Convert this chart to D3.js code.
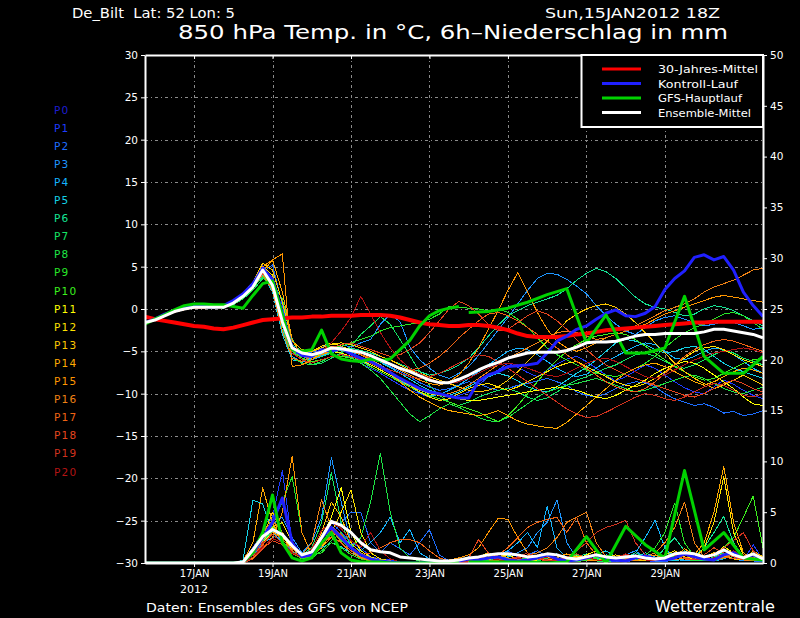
<!DOCTYPE html>
<html>
<head>
<meta charset="utf-8">
<script src="https://cdn.jsdelivr.net/npm/d3@7"></script>
<style>
  body { margin: 0; background: #000; }
  svg { display: block; }
  text { font-family: "DejaVu Sans", sans-serif; fill: #fff; }
</style>
</head>
<body>
<div id="graph"></div>
<script>
// ------DATA------
const station = "De_Bilt  Lat: 52 Lon: 5"
const runLabel = "Sun,15JAN2012 18Z"
const title = "850 hPa Temp. in °C, 6h–Niederschlag in mm"
const runStart = "2012-01-15T18:00:00Z"
const stepHours = 6
const dateTicks = ["2012-01-17", "2012-01-19", "2012-01-21", "2012-01-23", "2012-01-25", "2012-01-27", "2012-01-29"]
const tempTicks = [-30, -25, -20, -15, -10, -5, 0, 5, 10, 15, 20, 25, 30]
const precipTicks = [0, 5, 10, 15, 20, 25, 30, 35, 40, 45, 50]

const memberNames = ["P0","P1","P2","P3","P4","P5","P6","P7","P8","P9","P10",
                     "P11","P12","P13","P14","P15","P16","P17","P18","P19","P20"]
const memberColors = ["#1e1ed2","#1e3cff","#1e6eff","#1e96ff","#14b4ff","#14d2e6","#14e696",
                      "#14e664","#1ee646","#28e628","#3cf01e","#ffff00","#ffe100","#ffc800",
                      "#ffaa00","#ff9600","#f08214","#f06414","#e6461e","#d2321e","#b41414"]

const legendNames = ["30-Jahres-Mittel", "Kontroll-Lauf", "GFS-Hauptlauf", "Ensemble-Mittel"]
const legendColors = ["#ff0000", "#2020ff", "#00d200", "#ffffff"]

// 30-year climatology, 6-hourly
const climTemp = [-0.9,-1.2,-1.4,-1.6,-1.8,-2.0,-2.1,-2.3, -2.4,-2.2,-1.9,-1.6,-1.3,-1.2,-1.1,-1.0,
  -1.0,-0.9,-0.9,-0.8,-0.8,-0.8,-0.7,-0.7, -0.7,-0.8,-1.0,-1.3,-1.6,-1.8,-1.9,-2.0,
  -2.0,-1.9,-1.9,-2.0,-2.2,-2.5,-2.9,-3.2, -3.3,-3.3,-3.3,-3.2,-3.0,-2.9,-2.7,-2.5,
  -2.4,-2.3,-2.2,-2.1,-2.0,-1.9,-1.8,-1.7, -1.6,-1.6,-1.5,-1.5,-1.5,-1.5,-1.5,-1.5]

// ensemble mean
const meanTemp = [-1.6,-1.3,-0.8,-0.3,0.0,0.2,0.2,0.2, 0.2,0.7,1.5,2.6,4.6,2.8,-1.5,-4.6,
  -5.2,-5.4,-5.1,-4.6,-4.7,-4.9,-5.1,-5.5, -6.0,-6.5,-7.0,-7.4,-7.9,-8.4,-8.7,-8.7,
  -8.3,-7.8,-7.2,-6.7,-6.3,-5.8,-5.5,-5.2, -5.1,-5.1,-5.1,-4.9,-4.5,-4.0,-3.9,-3.9,
  -3.8,-3.5,-3.2,-3.0,-3.0,-2.9,-2.9,-2.9, -2.9,-2.7,-2.4,-2.4,-2.6,-2.8,-3.0,-3.4]
const meanPrecip = [0,0,0,0,0,0,0,0, 0,0,0.1,1.3,2.6,3.3,2.8,1.7,
  0.8,1.1,2.5,4.1,3.7,3.0,2.0,1.3, 1.1,1.0,0.6,0.5,0.4,0.3,0.2,0.2,
  0.3,0.5,0.6,0.8,0.9,0.9,0.8,0.6, 0.7,0.9,0.8,0.5,0.4,0.6,0.8,0.6,
  0.5,0.6,0.7,0.5,0.4,0.5,0.9,1.0, 0.9,0.6,0.8,1.3,0.8,0.5,0.9,0.4]

// control run (P0)
const ctrlTemp = [-1.6,-1.2,-0.6,-0.2,0.2,0.3,0.3,0.2, 0.4,1.0,1.8,3.0,4.8,3.5,-0.5,-4.5,
  -5.5,-5.6,-4.8,-5.0,-4.6,-5.3,-5.8,-6.2, -6.8,-7.5,-8.2,-8.8,-9.4,-9.8,-10.0,-10.3,
  -10.5,-10.5,-8.5,-7.8,-7.4,-6.8,-6.7,-6.6, -6.4,-5.2,-3.8,-3.2,-2.4,-2.0,-1.2,-0.5,
  -0.1,-0.8,-0.9,-0.5,0.3,2.3,3.6,4.5, 6.1,6.4,5.8,6.2,4.6,2.0,0.4,-0.9]
const ctrlPrecip = [0,0,0,0,0,0,0,0, 0,0,0.1,1.0,2.5,4.0,6.4,2.0,
  0.6,0.8,2.5,3.5,2.5,1.5,0.8,0.4, 0.2,0.1,0,0,0,0,0,0.1,
  0.2,0.4,0.3,0.5,0.6,0.3,0.2,0.3, 0.5,0.8,0.4,0.2,0.3,0.5,0.8,0.4,
  0.3,0.2,0.5,0.7,0.4,0.3,0.5,0.9, 0.6,0.4,0.3,0.8,1.0,0.5,0.8,0.3]

// GFS main run: 6-hourly to +192h, then 12-hourly from +198h
const gfsTempA = [-1.8,-1.2,-0.7,-0.1,0.4,0.6,0.6,0.5, 0.5,0.3,0.1,1.6,3.0,3.3,-0.6,-4.8,
  -5.0,-4.8,-2.5,-5.3,-5.9,-6.1,-6.2,-5.9, -6.1,-5.9,-4.8,-3.7,-2.0,-0.8,-0.2,0.1, 0.3]
const gfsTempB = [-0.4,-0.3,0.1,0.8,1.7,2.4,-4.0,-0.7,-5.2,-5.2,-4.6,1.5,-5.6,-7.6,-7.6,-5.6]
const gfsPrecipA = [0,0,0,0,0,0,0,0, 0,0,0.1,1.0,3.0,6.7,2.0,0.5,
  0.2,0.5,2.0,3.0,1.0,0.3,0.1,0.1, 0.1,0,0,0,0,0,0,0.1, 0.1]
const gfsPrecipB = [0.1,0.1,0.1,0.1,0,0.1,2.6,0,3.6,1.8,0.5,9.1,1.3,3.0,0.5,0.3]

// perturbed members P1..P20, 6-hourly
const membersTemp = [
  [-1.5,-1.2,-0.6,-0.2,0.1,0.3,0.2,0.1, 0.4,0.9,1.8,3.0,5.1,3.5,-1.0,-5.0, -5.6,-5.8,-5.2,-4.9,-5.3,-5.8,-6.4,-7.0,
   -7.6,-8.3,-9.0,-9.6,-10.0,-10.4,-10.8,-10.6, -10.2,-9.8,-9.0,-8.0,-7.2,-6.4,-6.9,-7.5, -8.0,-7.2,-6.5,-5.9,-5.6,-6.2,-7.0,-7.8,
   -8.5,-8.0,-7.3,-6.6,-7.0,-7.8,-8.6,-9.3, -9.8,-10.0,-9.2,-8.4,-8.9,-9.6,-10.2,-10.6],
  [-1.7,-1.4,-0.9,-0.4,-0.1,0.1,0.2,0.3, 0.1,0.6,1.3,2.4,4.4,5.2,0.5,-4.8, -5.4,-5.1,-4.6,-4.0,-4.4,-5.0,-5.2,-5.6,
   -6.2,-6.8,-7.4,-8.0,-8.7,-9.2,-9.6,-9.4, -9.0,-8.6,-8.8,-9.3,-9.6,-9.4,-9.0,-8.8, -8.5,-8.2,-8.6,-9.0,-9.8,-10.2,-10.4,-10.0,
   -9.4,-8.9,-8.6,-8.7,-9.2,-10.0,-10.6,-11.0, -11.4,-11.2,-11.6,-12.3,-12.1,-12.6,-12.4,-12.0],
  [-1.6,-1.2,-0.7,-0.3,0.0,0.3,0.4,0.3, 0.3,0.8,1.6,2.9,4.9,3.0,-1.6,-5.2, -5.6,-6.0,-5.5,-4.8,-4.2,-4.5,-4.0,-3.6,
   -1.8,-0.6,-1.5,-4.5,-6.0,-7.0,-7.8,-8.2, -7.6,-6.8,-5.5,-4.0,-2.5,-1.0,0.6,2.2, 3.6,4.2,4.1,3.5,2.7,1.8,0.4,-0.8,
   -1.8,-2.6,-3.0,-2.2,-1.4,-1.0,-0.8,-1.2, -1.6,-2.0,-1.8,-1.4,-1.6,-2.0,-2.4,-2.2],
  [-1.5,-1.3,-0.8,-0.2,0.1,0.2,0.1,0.2, 0.2,0.6,1.4,2.7,4.3,2.5,-2.5,-5.6, -6.3,-6.0,-5.6,-5.0,-5.2,-5.6,-6.1,-6.6,
   -7.2,-7.8,-8.5,-9.2,-9.9,-10.3,-10.1,-9.6, -9.0,-8.2,-7.4,-6.6,-5.8,-5.0,-4.6,-4.8, -5.4,-6.2,-7.0,-7.6,-8.0,-7.7,-7.0,-6.2,
   -5.6,-5.0,-4.4,-4.0,-4.2,-5.0,-5.8,-6.0, -5.6,-5.0,-4.6,-4.8,-5.4,-6.2,-7.0,-7.6],
  [-1.6,-1.3,-0.9,-0.4,-0.1,0.1,0.2,0.2, 0.3,0.8,1.5,2.6,4.0,2.0,-3.0,-6.0, -6.2,-5.8,-5.3,-5.0,-4.9,-5.1,-5.4,-5.8,
   -6.3,-6.9,-7.6,-8.3,-9.0,-9.6,-10.0,-10.2, -9.8,-9.2,-8.6,-8.0,-7.6,-7.9,-8.5,-9.2, -9.6,-9.8,-9.2,-8.4,-7.6,-6.9,-6.0,-5.0,
   -4.0,-3.6,-3.8,-4.2,-4.8,-5.2,-5.0,-4.6, -4.4,-4.8,-5.6,-6.4,-7.0,-7.4,-7.8,-8.2],
  [-1.7,-1.4,-0.8,-0.3,0.0,0.2,0.3,0.2, 0.1,0.6,1.4,2.8,4.8,3.2,-0.8,-4.2, -5.0,-5.4,-5.6,-5.2,-4.8,-4.6,-4.9,-5.2,
   -5.6,-6.0,-6.5,-7.0,-7.4,-7.8,-7.6,-7.2, -6.6,-5.8,-4.6,-3.2,-1.9,-0.8,-0.2,0.4, 0.8,1.2,1.6,2.4,3.4,4.2,4.8,4.4,
   3.6,2.5,1.4,0.6,0.2,0.0,-0.4,-0.8, -0.6,0.0,0.4,0.2,-0.2,-0.8,-1.4,-2.0],
  [-1.6,-1.2,-0.7,-0.2,0.1,0.3,0.2,0.1, 0.2,0.5,1.2,2.2,3.6,3.0,1.2,-3.5, -5.8,-6.6,-6.4,-5.8,-5.2,-4.4,-3.0,-2.0,
   -0.9,-1.8,-3.6,-5.5,-7.4,-9.0,-10.2,-11.0, -11.4,-11.0,-10.4,-10.0,-9.6,-9.4,-9.8,-10.4, -10.8,-10.5,-9.8,-9.0,-8.4,-8.0,-7.5,-7.0,
   -6.6,-6.0,-5.4,-5.2,-5.6,-6.2,-6.8,-7.0, -6.6,-6.0,-5.4,-4.9,-5.2,-5.8,-6.2,-6.6],
  [-1.5,-1.2,-0.8,-0.3,0.0,0.2,0.2,0.3, 0.3,0.7,1.5,2.5,3.8,2.4,-2.0,-5.8, -6.4,-6.6,-6.2,-5.6,-5.4,-5.8,-6.4,-7.2,
   -8.2,-9.6,-11.0,-12.4,-13.3,-12.6,-11.8,-11.2, -11.6,-12.2,-12.8,-13.2,-13.3,-12.8,-12.0,-11.2, -10.4,-9.8,-9.4,-9.0,-8.8,-8.5,-8.2,-8.6,
   -9.0,-9.4,-9.8,-9.6,-9.2,-8.8,-8.4,-8.0, -7.8,-8.2,-8.8,-9.4,-9.8,-10.0,-9.6,-9.2],
  [-1.6,-1.3,-0.8,-0.4,0.0,0.1,0.1,0.2, 0.2,0.7,1.5,2.7,4.4,3.6,-0.6,-4.8, -5.6,-5.8,-5.2,-4.6,-4.4,-4.0,-3.6,-3.2,
   -2.6,-2.2,-2.0,-1.8,-1.6,-1.2,-0.6,0.3, 0.2,0.1,0.0,-0.2,0.0,-0.4,-1.2,-2.2, -3.4,-4.6,-5.4,-6.0,-6.6,-7.2,-7.6,-7.8,
   -8.0,-7.6,-7.0,-6.4,-5.6,-4.6,-3.6,-2.8, -2.2,-1.8,-1.2,-0.6,-0.4,-0.8,-1.6,-2.4],
  [-1.7,-1.4,-0.9,-0.3,0.1,0.2,0.2,0.1, 0.2,0.6,1.3,2.4,4.2,2.6,-1.8,-5.0, -5.8,-6.2,-6.0,-5.6,-5.6,-5.8,-6.2,-6.8,
   -7.4,-8.0,-8.6,-9.2,-9.8,-10.2,-10.6,-11.0, -11.4,-11.8,-12.2,-12.8,-13.3,-12.6,-11.4,-10.0, -8.6,-7.2,-6.0,-5.0,-4.2,-3.6,-3.2,-3.0,
   -2.8,-3.0,-3.6,-4.4,-5.2,-6.0,-6.8,-7.4, -8.0,-8.4,-8.2,-7.6,-7.0,-6.4,-6.0,-5.8],
  [-1.6,-1.3,-0.8,-0.3,0.0,0.2,0.3,0.3, 0.2,0.7,1.6,2.8,4.6,3.4,-1.0,-4.6, -5.4,-5.8,-5.4,-5.0,-5.2,-5.6,-6.0,-6.6,
   -7.2,-7.8,-8.4,-9.0,-9.6,-10.0,-10.2,-10.4, -10.6,-10.8,-10.8,-10.6,-10.4,-10.2,-10.0,-9.8, -9.6,-9.4,-9.2,-9.4,-9.6,-10.0,-10.4,-10.6,
   -10.2,-9.6,-9.0,-8.4,-7.6,-7.0,-6.6,-6.2, -6.4,-7.0,-7.8,-8.6,-9.4,-10.4,-11.2,-11.4],
  [-1.5,-1.2,-0.7,-0.2,0.1,0.3,0.3,0.2, 0.3,0.8,1.6,2.9,5.0,4.0,-0.4,-4.4, -5.2,-5.0,-4.4,-4.0,-4.4,-4.8,-5.4,-6.0,
   -6.6,-7.4,-8.2,-9.0,-9.8,-10.4,-10.8,-10.6, -10.0,-9.4,-9.0,-8.8,-9.2,-9.6,-9.2,-8.6, -8.0,-7.4,-6.8,-6.4,-6.2,-6.8,-7.4,-8.0,
   -8.6,-9.0,-9.2,-8.8,-8.2,-7.4,-6.6,-5.8, -5.0,-4.6,-4.4,-4.8,-5.4,-6.0,-6.4,-6.8],
  [-1.6,-1.3,-0.7,-0.3,0.0,0.2,0.2,0.3, 0.4,0.9,1.8,3.2,5.4,4.6,0.8,-3.8, -4.8,-5.0,-4.6,-4.2,-4.0,-4.2,-4.6,-5.0,
   -5.6,-6.0,-6.6,-7.2,-7.6,-8.0,-8.4,-8.8, -9.2,-9.6,-9.8,-9.6,-9.2,-8.4,-7.4,-6.2, -5.0,-3.8,-2.6,-1.4,-0.6,0.0,0.4,0.6,
   0.2,-0.6,-1.6,-2.8,-4.0,-5.2,-6.4,-7.4, -8.2,-8.8,-9.4,-9.0,-8.4,-7.8,-8.4,-9.0],
  [-1.7,-1.3,-0.8,-0.4,0.0,0.1,0.2,0.2, 0.2,0.6,1.4,2.6,4.4,5.8,2.0,-3.6, -5.6,-5.8,-5.4,-5.0,-4.8,-5.0,-5.4,-6.0,
   -6.8,-7.6,-8.6,-9.6,-10.4,-11.0,-11.6,-12.0, -12.2,-12.4,-12.6,-12.4,-12.0,-12.6,-13.2,-13.6, -13.8,-14.0,-14.1,-13.4,-12.4,-11.4,-10.4,-9.4,
   -8.4,-7.6,-7.0,-6.6,-6.4,-6.8,-7.4,-8.0, -8.6,-9.0,-8.6,-8.0,-7.4,-7.0,-7.2,-7.6],
  [-1.6,-1.2,-0.8,-0.3,0.1,0.3,0.3,0.2, 0.2,0.7,1.7,3.0,5.0,5.8,6.5,-6.8, -6.6,-6.0,-5.4,-4.8,-4.6,-4.8,-5.2,-5.6,
   -6.0,-6.6,-7.2,-7.8,-8.4,-8.8,-9.0,-8.6, -7.8,-6.4,-4.6,-2.4,-0.2,2.2,4.3,2.0, -0.4,-2.4,-3.8,-4.6,-5.0,-4.6,-4.0,-3.4,
   -3.0,-2.6,-2.2,-1.8,-1.2,-0.6,-0.2,0.2, 0.6,1.0,1.4,1.6,1.4,1.2,1.0,0.8],
  [-1.5,-1.2,-0.7,-0.2,0.1,0.3,0.2,0.1, 0.2,0.7,1.4,2.6,4.1,2.2,-2.6,-5.8, -6.2,-5.6,-5.0,-4.6,-4.8,-5.2,-5.8,-6.4,
   -7.0,-7.6,-8.2,-8.8,-9.4,-9.8,-10.2,-10.0, -9.6,-9.0,-8.2,-7.4,-6.6,-5.8,-5.2,-4.6, -4.0,-3.4,-2.8,-2.6,-2.8,-3.2,-3.6,-3.4,
   -3.0,-2.6,-2.0,-1.4,-0.8,-0.2,0.2,0.6, 1.2,2.0,2.6,3.0,3.4,4.0,4.6,4.8],
  [-1.6,-1.3,-0.9,-0.4,-0.1,0.1,0.2,0.3, 0.3,0.8,1.6,2.8,4.4,3.0,-1.4,-4.6, -5.2,-5.4,-5.0,-4.4,-4.6,-5.0,-5.4,-5.8,
   -6.2,-6.6,-7.0,-7.2,-7.0,-6.4,-5.6,-4.6, -3.4,-2.4,-1.4,-0.6,-0.4,-0.8,-1.4,-2.2, -3.0,-3.8,-4.6,-5.4,-6.2,-7.0,-7.8,-8.6,
   -9.2,-9.6,-9.8,-9.4,-8.6,-7.6,-6.6,-5.6, -4.8,-4.2,-3.8,-3.6,-3.8,-4.2,-4.6,-5.0],
  [-1.7,-1.4,-0.8,-0.3,0.0,0.1,0.1,0.2, 0.3,0.6,1.4,2.5,4.2,3.4,-0.2,-4.4, -5.2,-5.6,-5.2,-4.6,-4.2,-4.0,-4.4,-4.8,
   -5.2,-5.6,-5.4,-4.8,-4.0,-2.8,-1.4,0.0, 0.9,0.4,-0.6,-1.8,-2.6,-2.4,-1.6,-0.8, -0.2,-0.6,-1.4,-2.4,-3.6,-4.8,-5.8,-6.6,
   -7.2,-7.8,-8.2,-8.6,-9.0,-9.4,-9.8,-10.2, -10.4,-10.0,-9.4,-8.8,-8.4,-8.8,-9.4,-9.8],
  [-1.6,-1.2,-0.8,-0.3,0.0,0.2,0.3,0.3, 0.2,0.7,1.6,2.8,4.5,2.9,-1.8,-5.2, -6.0,-6.4,-6.0,-5.6,-5.4,-5.6,-6.0,-6.4,
   -6.8,-7.2,-7.6,-8.0,-8.2,-8.0,-7.6,-7.0, -6.4,-5.8,-5.4,-5.6,-6.2,-7.0,-7.8,-8.6, -9.4,-10.2,-11.0,-11.8,-12.4,-12.8,-12.7,-12.2,
   -11.6,-11.0,-10.4,-10.0,-10.2,-10.6,-10.8,-10.4, -9.8,-9.2,-8.8,-9.0,-9.6,-10.2,-10.4,-10.0],
  [-1.6,-1.3,-0.8,-0.3,0.1,0.2,0.2,0.2, 0.3,0.8,1.5,2.7,4.3,3.0,-1.2,-4.8, -5.4,-5.6,-5.0,-4.0,-2.6,-1.0,1.5,-0.6,
   -2.8,-4.6,-6.0,-7.0,-7.6,-8.2,-8.6,-8.8, -8.6,-8.2,-7.6,-7.0,-6.6,-6.4,-6.6,-7.0, -7.4,-7.8,-8.0,-7.6,-7.0,-6.4,-6.0,-5.8,
   -6.2,-6.8,-7.4,-8.0,-8.2,-7.8,-7.2,-6.6, -6.0,-5.6,-5.2,-5.0,-4.8,-4.6,-4.8,-5.2]
]

const membersPrecip = [
  [0,0,0,0,0,0,0,0, 0,0,0.2,1.5,3.0,4.5,9.1,2.0, 0.5,1.0,2.5,4.0,3.0,2.0,1.5,0.6, 0.4,0.3,0.1,0,0,0,0,0,
   0,0.2,0.5,0.3,0.8,1.2,0.6,0.2, 0.4,0.8,0.5,0.2,0.1,0.3,0.6,0.2, 0.1,0.4,0.8,0.3,0.1,0.2,0.6,0.9, 0.4,0.2,0.5,1.0,0.6,0.2,1.8,0.3],
  [0,0,0,0,0,0,0,0, 0,0,0,1.0,2.5,3.5,2.0,1.2, 0.6,0.8,1.6,2.8,4.0,5.0,5.0,2.0, 1.0,2.0,1.4,0.8,2.0,3.3,0.8,0.2,
   0.1,0,0.2,0.6,0.3,0.2,0.5,0.8, 1.2,0.6,0.3,0.1,0.2,0.5,0.9,0.4, 0.2,0.1,0.3,0.6,0.2,0.1,0.4,0.8, 0.5,0.3,0.2,0.6,0.9,0.4,0.2,0.1],
  [0,0,0,0,0,0,0,0, 0,0,0,0.5,2.0,3.8,4.5,2.5, 1.0,2.0,4.5,10.4,6.0,2.0,1.0,0.5, 0.3,0.2,0.1,0,0,0.1,0.2,0.1,
   0.3,0.6,0.4,0.2,0.5,0.8,1.0,1.5, 3.0,4.0,6.2,2.0,0.5,0.3,0.8,0.5, 0.3,0.8,1.2,0.5,0.2,0.3,0.6,0.4, 0.8,0.5,0.3,0.9,0.4,0.2,0.6,0.3],
  [0,0,0,0,0,0,0,0, 0,0,0.3,1.2,2.0,2.5,3.0,1.5, 0.8,1.0,2.0,3.0,2.5,1.8,1.2,2.0, 3.0,4.5,2.0,3.3,1.0,0.4,0.2,0.1,
   0.2,0.4,0.3,0.5,0.8,1.2,2.0,3.0, 1.5,5.6,1.5,0.5,0.3,0.2,0.4,0.8, 0.5,0.3,1.0,2.5,4.2,1.5,0.4,0.2, 0.3,0.6,0.2,0.4,0.9,0.5,0.3,0.2],
  [0,0,0,0,0,0,0,0, 0,0,0.3,6.2,5.8,3.0,2.0,1.0, 0.5,0.8,1.5,2.0,1.6,1.0,0.6,0.4, 0.2,0.1,0,0,0.1,0.2,0.1,0,
   0.1,0.3,0.5,0.2,0.4,0.6,0.8,0.5, 0.3,0.6,0.9,0.4,0.2,0.5,0.8,1.2, 0.6,0.3,0.5,1.0,0.6,0.3,0.2,0.4, 0.6,0.3,0.5,1.2,0.8,0.4,0.3,0.2],
  [0,0,0,0,0,0,0,0, 0,0,0,0.8,2.0,3.5,2.8,1.2, 0.4,0.6,1.8,3.5,2.6,1.5,0.8,0.4, 0.2,0.1,0,0,0,0.1,0,0,
   0,0.2,0.4,0.3,0.6,0.4,0.2,0.5, 0.8,0.4,0.2,0.3,0.6,0.9,0.5,0.3, 0.2,0.5,1.0,0.6,0.3,1.5,2.5,1.2, 0.6,1.5,3.0,4.6,2.0,0.6,0.3,0.2],
  [0,0,0,0,0,0,0,0, 0,0,0.1,1.0,2.2,3.0,2.5,1.6, 0.8,1.5,4.0,8.9,4.0,1.6,0.8,0.3, 0.2,0.1,0,0,0,0,0.1,0.2,
   0.4,0.2,0.1,0.3,0.5,0.2,0.1,0.3, 0.6,0.3,0.2,0.5,0.8,0.4,0.2,0.1, 0.3,0.6,0.4,0.2,0.3,0.7,1.0,0.5, 0.3,0.2,0.6,0.9,0.4,0.3,0.5,0.2],
  [0,0,0,0,0,0,0,0, 0,0,0,0.5,1.8,3.2,4.0,2.0, 0.8,0.5,1.2,2.2,3.0,1.5,2.5,6.0, 10.8,5.0,1.5,0.5,0.2,0.1,0,0,
   0,0.1,0.3,0.2,0.1,0.4,0.6,0.3, 0.2,0.5,0.3,0.1,0.2,0.6,0.4,0.2, 0.4,0.8,0.5,0.2,0.3,0.5,0.8,0.4, 0.2,0.4,0.8,1.0,0.6,0.3,0.2,0.4],
  [0,0,0,0,0,0,0,0, 0,0,0.2,1.2,2.5,4.0,6.0,8.5, 3.0,0.8,1.0,2.0,1.5,0.8,0.4,0.2, 0.1,0,0,0,0.1,0,0,0,
   0.1,0.3,0.2,0.4,0.6,0.3,0.1,0.2, 0.5,0.3,0.2,0.6,0.4,0.2,0.5,0.8, 0.4,0.2,0.3,0.8,1.5,3.0,5.9,2.0, 0.6,0.3,0.2,0.5,0.8,0.4,0.2,0.3],
  [0,0,0,0,0,0,0,0, 0,0,0,0.6,2.4,3.6,2.2,1.0, 0.4,0.6,2.0,3.2,2.2,1.4,0.8,0.4, 0.2,0.1,0,0,0,0,0.1,0,
   0.1,0.2,0.3,0.1,0.2,0.5,0.3,0.2, 0.4,0.6,0.3,0.2,0.1,0.3,0.6,0.4, 0.2,0.3,0.6,0.4,0.2,0.4,0.7,1.0, 0.6,0.4,0.8,1.5,2.5,4.5,6.6,1.5],
  [0,0,0,0,0,0,0,0, 0,0,0,0.8,2.0,3.0,2.6,1.4, 0.8,1.0,2.5,4.5,7.4,3.0,1.2,0.6, 0.3,0.1,0,0,0.1,0,0,0,
   0,0.2,0.4,0.3,0.6,0.8,0.4,0.2, 0.3,0.6,0.4,0.2,0.3,0.8,1.2,0.5, 0.3,0.2,0.4,0.6,0.3,0.2,0.5,0.9, 0.5,0.3,0.8,1.6,1.0,0.4,0.6,0.3],
  [0,0,0,0,0,0,0,0, 0,0,0.1,1.0,2.2,3.5,4.0,2.0, 0.8,0.6,1.5,3.0,5.0,7.2,3.0,1.0, 0.4,0.2,0.1,0,0,0,0,0.1,
   0.2,0.3,0.5,0.8,0.5,0.3,0.2,0.4, 0.6,0.3,0.2,0.4,0.7,0.5,0.3,0.2, 0.4,0.6,0.3,0.2,0.5,0.8,1.2,0.6, 0.4,1.5,4.0,8.5,3.0,0.8,0.4,0.2],
  [0,0,0,0,0,0,0,0, 0,0,0,0.9,2.5,5.0,3.0,1.5, 0.6,1.0,3.0,6.0,4.5,2.0,1.0,0.5, 0.2,0.1,0,0,0,0,0,0,
   0.1,0.2,0.6,1.0,0.5,0.3,0.6,0.8, 0.4,0.2,0.5,0.9,0.6,0.3,0.2,0.5, 0.8,0.5,0.3,0.2,0.4,0.6,1.0,0.5, 0.3,0.6,1.0,0.8,0.4,0.3,1.2,0.6],
  [0,0,0,0,0,0,0,0, 0,0,0.2,2.0,7.4,4.0,2.0,1.0, 0.5,0.8,2.0,3.0,2.5,1.5,0.8,0.4, 0.2,0.1,0,0,0,0,0,0,
   0,0.2,0.4,0.6,0.9,0.5,0.3,0.2, 0.5,0.8,0.4,0.2,0.3,0.6,0.9,0.5, 0.3,0.2,0.5,0.8,0.4,0.3,0.6,1.4, 0.8,2.0,5.0,9.5,4.0,1.0,0.4,0.3],
  [0,0,0,0,0,0,0,0, 0,0,0,0.5,1.5,2.5,5.0,10.5, 3.0,0.8,1.5,2.5,2.0,1.2,0.6,0.3, 0.1,0,0,0,0,0,0.1,0.3,
   0.5,0.8,1.5,3.0,4.4,4.3,2.5,1.0, 0.5,0.3,0.6,0.9,0.5,0.3,0.2,0.4, 0.6,0.3,0.2,0.5,0.8,0.4,0.3,0.5, 0.8,0.4,0.3,0.6,0.9,0.4,0.2,0.3],
  [0,0,0,0,0,0,0,0, 0,0,0.1,1.2,3.0,4.2,3.0,1.4, 0.8,2.0,6.2,3.5,2.0,1.0,0.5,0.2, 0.1,0,0,0,0,0,0,0,
   0,0.2,0.5,0.3,0.2,0.4,0.6,0.8, 1.0,1.5,2.5,4.0,4.5,5.0,2.0,0.6, 0.3,0.2,0.4,0.6,1.0,2.0,3.5,6.0, 2.0,0.6,0.3,0.5,0.8,0.3,0.2,0.4],
  [0,0,0,0,0,0,0,0, 0,0,0,0.6,1.8,3.0,2.4,1.2, 0.5,0.7,1.8,2.6,2.0,1.2,0.8,1.0, 1.5,2.0,2.3,2.3,2.0,1.2,0.5,0.2,
   0.1,0.3,0.6,0.4,0.8,1.5,2.5,3.5, 4.0,4.3,4.5,3.0,4.5,2.0,0.8,0.4, 0.2,0.4,0.6,0.3,0.2,0.5,0.8,0.4, 0.3,0.5,0.9,0.6,0.4,0.8,0.5,0.2],
  [0,0,0,0,0,0,0,0, 0,0,0,0.4,1.4,2.2,1.8,0.9, 0.6,1.2,2.6,3.6,2.8,1.6,0.9,0.4, 0.2,0.1,0,0,0,0,0,0,
   0.1,0.5,2.3,1.0,0.4,0.2,0.5,0.8, 0.4,0.2,0.3,0.6,0.9,0.5,0.3,0.2, 0.4,0.8,0.5,0.3,0.2,0.6,1.0,0.5, 0.3,0.8,1.5,1.0,0.6,0.3,0.5,0.2],
  [0,0,0,0,0,0,0,0, 0,0,0,0.8,2.0,2.8,2.0,1.0, 0.5,0.8,2.0,3.2,2.4,1.5,0.8,0.4, 0.2,0,0,0,0,0.1,0,0,
   0.1,0.2,0.4,0.8,0.5,0.3,0.6,1.0, 0.6,0.3,0.2,0.5,1.2,2.0,3.0,3.5, 3.8,4.2,2.0,0.8,0.4,0.3,0.6,0.8, 0.4,0.3,0.8,1.5,2.2,3.0,1.2,0.4],
  [0,0,0,0,0,0,0,0, 0,0,0,0.6,1.6,2.4,2.0,1.0, 0.6,1.4,3.2,4.0,3.4,2.2,1.6,3.0, 1.2,0.4,0.1,0,0,0,0,0,
   0,0.1,0.3,0.5,0.3,0.2,0.4,0.6, 0.8,0.5,0.3,0.2,0.4,0.6,0.3,0.2, 0.5,0.9,0.6,0.3,0.2,0.4,0.6,1.0, 0.6,0.3,0.5,0.8,1.2,0.6,0.4,0.3]
]

// ------CHART SETUP------
const width = 800
const height = 618
const margin = { top: 55, right: 37, bottom: 55, left: 145 }
const plotRight = width - margin.right
const plotBottom = height - margin.bottom

const t0 = new Date(runStart)
const hourMs = 3600 * 1000
const t1 = new Date(t0.getTime() + (meanTemp.length - 1) * stepHours * hourMs)

const x = d3.scaleUtc().domain([t0, t1]).range([margin.left, plotRight])
const yT = d3.scaleLinear().domain([-30, 30]).range([plotBottom, margin.top])
const yP = d3.scaleLinear().domain([0, 50]).range([plotBottom, margin.top])

// turn a value list into points, starting at hour h0 with a given step
function series(vals, h0, step) {
  return vals.map((v, i) => ({ t: new Date(t0.getTime() + (h0 + i * step) * hourMs), v: v }))
}

const svg = d3.select('#graph')
  .append('svg')
    .attr('width', width)
    .attr('height', height)
    .style('background', '#000')

svg.append('clipPath').attr('id', 'plotClip')
  .append('rect')
    .attr('x', margin.left).attr('y', margin.top - 1)
    .attr('width', plotRight - margin.left).attr('height', plotBottom - margin.top + 2)

// ------GRID------
const gridDash = '3,3,1,3'
const grid = svg.append('g').attr('stroke', '#8c8c8c').attr('stroke-width', 1)
  .attr('stroke-dasharray', gridDash).attr('shape-rendering', 'crispEdges')
grid.selectAll('.hgrid').data(tempTicks.filter(d => d > -30 && d < 30)).enter()
  .append('line')
    .attr('x1', margin.left).attr('x2', plotRight)
    .attr('y1', d => yT(d) + 0.5).attr('y2', d => yT(d) + 0.5)
grid.selectAll('.vgrid').data(dateTicks).enter()
  .append('line')
    .attr('x1', d => Math.round(x(new Date(d + 'T00:00:00Z'))) + 0.5)
    .attr('x2', d => Math.round(x(new Date(d + 'T00:00:00Z'))) + 0.5)
    .attr('y1', margin.top).attr('y2', plotBottom)

// ------LINES------
const plot = svg.append('g').attr('clip-path', 'url(#plotClip)')
const lineT = d3.line().x(d => x(d.t)).y(d => yT(d.v))
const lineP = d3.line().x(d => x(d.t)).y(d => yP(d.v))

function drawLine(data, gen, color, w) {
  plot.append('path')
    .datum(data)
    .attr('d', gen)
    .attr('fill', 'none')
    .attr('stroke', color)
    .attr('stroke-width', w)
    .attr('stroke-linejoin', 'round')
    .attr('shape-rendering', w < 2 ? 'crispEdges' : 'auto')
}

// thin members (P1..P20)
membersTemp.forEach((vals, i) => drawLine(series(vals, 0, stepHours), lineT, memberColors[i + 1], 1))
membersPrecip.forEach((vals, i) => drawLine(series(vals, 0, stepHours), lineP, memberColors[i + 1], 1))

// climatology
drawLine(series(climTemp, 0, stepHours), lineT, legendColors[0], 4)
// control run
drawLine(series(ctrlTemp, 0, stepHours), lineT, legendColors[1], 3)
drawLine(series(ctrlPrecip, 0, stepHours), lineP, legendColors[1], 3)
// GFS main run (two parts: 6-hourly, then 12-hourly)
const gfsSplit = (gfsTempA.length - 1) * stepHours + stepHours
drawLine(series(gfsTempA, 0, stepHours), lineT, legendColors[2], 3)
drawLine(series(gfsTempB, gfsSplit, stepHours * 2), lineT, legendColors[2], 3)
drawLine(series(gfsPrecipA, 0, stepHours), lineP, legendColors[2], 3)
drawLine(series(gfsPrecipB, gfsSplit, stepHours * 2), lineP, legendColors[2], 3)
// ensemble mean
drawLine(series(meanTemp, 0, stepHours), lineT, legendColors[3], 3)
drawLine(series(meanPrecip, 0, stepHours), lineP, legendColors[3], 3)

// ------AXES------
const tickFont = 10.5
function styleAxis(g) {
  g.select('.domain').attr('stroke', '#fff').attr('stroke-width', 2)
  g.selectAll('.tick line').attr('stroke', '#fff')
  g.selectAll('.tick text').attr('fill', '#fff').style('font-size', tickFont + 'px')
}

svg.append('g')
  .attr('transform', `translate(${margin.left}, 0)`)
  .call(d3.axisLeft(yT).tickValues(tempTicks).tickSize(4).tickSizeOuter(0))
  .call(styleAxis)

svg.append('g')
  .attr('transform', `translate(${plotRight}, 0)`)
  .call(d3.axisRight(yP).tickValues(precipTicks).tickSize(4).tickSizeOuter(0))
  .call(styleAxis)

const dateFmt = d3.utcFormat('%d%b')
svg.append('g')
  .attr('transform', `translate(0, ${plotBottom})`)
  .call(d3.axisBottom(x).tickValues(dateTicks.map(d => new Date(d + 'T00:00:00Z')))
    .tickFormat(d => dateFmt(d).toUpperCase()).tickSize(4).tickSizeOuter(0))
  .call(styleAxis)
  .selectAll('.tick text').style('font-size', '10px')

svg.append('g')
  .attr('transform', `translate(0, ${margin.top})`)
  .call(d3.axisTop(x).tickValues(dateTicks.map(d => new Date(d + 'T00:00:00Z')))
    .tickFormat('').tickSize(-4).tickSizeOuter(0))
  .call(styleAxis)

// year under first date label
svg.append('text')
  .attr('x', x(new Date(dateTicks[0] + 'T00:00:00Z')))
  .attr('y', plotBottom + 30)
  .attr('text-anchor', 'middle')
  .style('font-size', '11px')
  .text(runStart.slice(0, 4))

// ------MEMBER LABELS------
svg.selectAll('.plabel').data(memberNames).enter()
  .append('text')
    .attr('x', 54)
    .attr('y', (d, i) => 113.5 + i * 18.1)
    .style('font-size', '10.5px')
    .style('letter-spacing', '1.2px')
    .style('fill', (d, i) => memberColors[i])
    .text(d => d)

// ------LEGEND------
const legend = svg.append('g')
legend.append('rect')
  .attr('x', 581.5).attr('y', margin.top).attr('width', plotRight - 581.5).attr('height', 72)
  .attr('fill', '#000').attr('stroke', '#fff').attr('stroke-width', 2)
const legendRowsY = [69, 83.5, 98, 112.5]
legendNames.forEach((name, i) => {
  legend.append('line')
    .attr('x1', 602).attr('x2', 641)
    .attr('y1', legendRowsY[i]).attr('y2', legendRowsY[i])
    .attr('stroke', legendColors[i]).attr('stroke-width', 3)
  legend.append('text')
    .attr('x', 658).attr('y', legendRowsY[i] + 4)
    .style('font-size', '10.5px')
    .attr('textLength', [100, 80, 84, 93][i])
    .attr('lengthAdjust', 'spacingAndGlyphs')
    .text(name)
})

// ------TITLES------
svg.append('text').attr('x', 72).attr('y', 18)
  .style('font-size', '14px').style('white-space', 'pre')
  .attr('textLength', 163).attr('lengthAdjust', 'spacingAndGlyphs')
  .text(station)
svg.append('text').attr('x', 545).attr('y', 18)
  .style('font-size', '14px').attr('textLength', 175).attr('lengthAdjust', 'spacingAndGlyphs')
  .text(runLabel)
svg.append('text').attr('x', 178).attr('y', 39)
  .style('font-size', '20px').attr('textLength', 550).attr('lengthAdjust', 'spacingAndGlyphs')
  .text(title)
svg.append('text').attr('x', 146).attr('y', 612)
  .style('font-size', '12px').attr('textLength', 262).attr('lengthAdjust', 'spacingAndGlyphs')
  .text('Daten: Ensembles des GFS von NCEP')
svg.append('text').attr('x', 655).attr('y', 612)
  .style('font-size', '15px').attr('textLength', 120).attr('lengthAdjust', 'spacingAndGlyphs')
  .text('Wetterzentrale')
</script>
</body>
</html>
